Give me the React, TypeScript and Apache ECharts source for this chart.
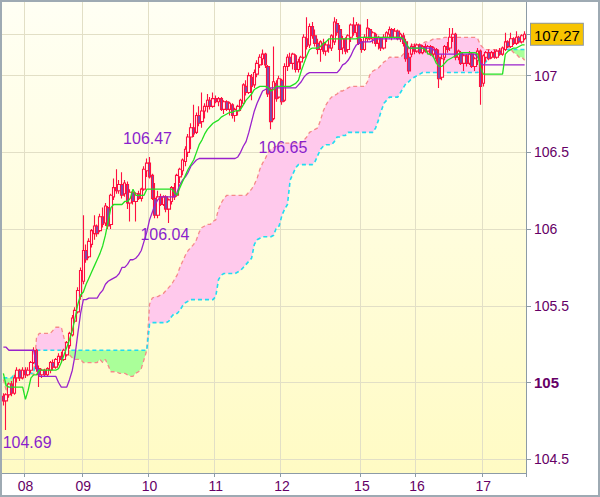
import React, { useEffect, useRef } from "react";
import * as echarts from "echarts";

// ---- x axis: day boundaries (hourly candles) ----
const dayLabels = ["08", "09", "10", "11", "12", "15", "16", "17"];
const dayStartIdx = [8, 29, 53, 77, 101, 130, 150, 174];

// ---- y axis ----
const yTickValues = [104.5, 105, 105.5, 106, 106.5, 107];
const lastPrice = 107.27;

// ---- candles: [open, close, low, high] ----
const candles: number[][] = [
  [104.91, 104.88, 104.85, 104.93], [104.88, 104.92, 104.69, 104.93], [104.92, 104.99, 104.90, 105.00], [104.99, 104.93, 104.91, 105.01], [104.93, 105.03, 104.92, 105.05],
  [105.03, 105.08, 105.00, 105.10], [105.08, 105.03, 105.01, 105.09], [105.03, 105.08, 105.02, 105.10], [105.08, 105.05, 105.03, 105.10], [105.05, 105.08, 105.04, 105.10],
  [105.08, 105.13, 105.06, 105.14], [105.13, 105.21, 105.12, 105.23], [105.21, 105.09, 105.07, 105.22], [105.09, 105.05, 104.97, 105.11], [105.05, 105.08, 105.03, 105.09],
  [105.08, 105.05, 105.04, 105.09], [105.05, 105.09, 105.04, 105.10], [105.08, 105.13, 105.06, 105.14], [105.13, 105.10, 105.08, 105.15], [105.10, 105.15, 105.09, 105.16],
  [105.13, 105.17, 105.11, 105.19], [105.17, 105.15, 105.13, 105.20], [105.15, 105.21, 105.14, 105.22], [105.18, 105.26, 105.17, 105.27], [105.24, 105.32, 105.22, 105.33],
  [105.31, 105.42, 105.30, 105.44], [105.40, 105.47, 105.39, 105.49], [105.46, 105.60, 105.45, 105.62], [105.56, 105.73, 105.54, 105.75], [105.66, 105.86, 105.64, 106.09],
  [105.86, 105.80, 105.78, 105.90], [105.82, 105.92, 105.81, 105.94], [105.90, 105.99, 105.88, 106.00], [105.97, 106.02, 105.93, 106.09], [106.02, 105.97, 105.95, 106.03],
  [105.99, 106.08, 105.98, 106.10], [106.08, 106.03, 106.01, 106.14], [106.04, 106.15, 106.02, 106.17], [106.14, 106.02, 106.00, 106.15], [106.03, 106.22, 106.00, 106.23],
  [106.21, 106.27, 106.19, 106.33], [106.27, 106.25, 106.23, 106.39], [106.25, 106.29, 106.23, 106.32], [106.29, 106.22, 106.20, 106.37], [106.23, 106.30, 106.21, 106.32],
  [106.29, 106.17, 106.13, 106.31], [106.17, 106.24, 106.05, 106.26], [106.24, 106.18, 106.16, 106.25], [106.18, 106.23, 106.05, 106.24], [106.23, 106.20, 106.19, 106.25],
  [106.20, 106.26, 106.18, 106.27], [106.26, 106.39, 106.25, 106.41], [106.38, 106.43, 106.34, 106.46], [106.43, 106.34, 106.33, 106.47], [106.35, 106.20, 106.19, 106.36],
  [106.20, 106.09, 106.07, 106.30], [106.09, 106.21, 106.07, 106.25], [106.21, 106.16, 106.15, 106.23], [106.16, 106.21, 106.15, 106.22], [106.21, 106.13, 106.11, 106.22],
  [106.13, 106.19, 106.04, 106.20], [106.18, 106.27, 106.16, 106.28], [106.27, 106.21, 106.19, 106.30], [106.22, 106.35, 106.21, 106.36], [106.34, 106.39, 106.30, 106.40],
  [106.38, 106.45, 106.35, 106.46], [106.44, 106.52, 106.41, 106.54], [106.50, 106.60, 106.47, 106.62], [106.60, 106.66, 106.52, 106.69], [106.66, 106.62, 106.60, 106.81],
  [106.63, 106.74, 106.62, 106.76], [106.74, 106.69, 106.67, 106.80], [106.70, 106.77, 106.66, 106.89], [106.77, 106.80, 106.72, 106.82], [106.80, 106.84, 106.76, 106.88],
  [106.84, 106.80, 106.78, 106.86], [106.80, 106.85, 106.79, 106.89], [106.85, 106.83, 106.82, 106.87], [106.83, 106.85, 106.80, 106.86], [106.85, 106.78, 106.77, 106.86],
  [106.78, 106.83, 106.75, 106.84], [106.83, 106.78, 106.77, 106.84], [106.78, 106.82, 106.74, 106.83], [106.81, 106.74, 106.72, 106.82], [106.74, 106.78, 106.70, 106.79],
  [106.77, 106.80, 106.74, 106.81], [106.80, 106.84, 106.77, 106.85], [106.82, 106.94, 106.81, 106.95], [106.93, 106.89, 106.87, 106.97], [106.89, 107.00, 106.88, 107.02],
  [106.99, 106.93, 106.84, 107.01], [106.94, 107.02, 106.92, 107.04], [107.01, 107.08, 106.99, 107.10], [107.07, 107.12, 107.05, 107.14], [107.11, 107.14, 107.07, 107.17],
  [107.14, 107.07, 107.05, 107.15], [107.06, 106.88, 106.86, 107.07], [106.91, 106.70, 106.65, 106.92], [106.72, 106.96, 106.71, 107.19], [106.95, 106.85, 106.83, 106.97],
  [106.86, 106.98, 106.85, 107.00], [106.97, 106.83, 106.81, 106.98], [106.84, 107.06, 106.83, 107.08], [107.06, 107.12, 107.03, 107.14], [107.12, 107.08, 107.06, 107.15],
  [107.08, 107.14, 107.04, 107.15], [107.13, 107.04, 107.02, 107.14], [107.04, 107.09, 107.02, 107.11], [107.09, 107.12, 107.04, 107.13], [107.12, 107.25, 107.11, 107.27],
  [107.24, 107.19, 107.17, 107.38], [107.20, 107.32, 107.18, 107.34], [107.32, 107.26, 107.24, 107.35], [107.26, 107.21, 107.19, 107.30], [107.21, 107.17, 107.14, 107.24],
  [107.17, 107.22, 107.09, 107.23], [107.21, 107.16, 107.14, 107.24], [107.16, 107.20, 107.13, 107.22], [107.20, 107.18, 107.15, 107.24], [107.18, 107.26, 107.16, 107.27],
  [107.22, 107.35, 107.20, 107.38], [107.34, 107.28, 107.26, 107.37], [107.30, 107.17, 107.09, 107.33], [107.18, 107.24, 107.14, 107.26], [107.24, 107.16, 107.14, 107.25],
  [107.17, 107.26, 107.15, 107.27], [107.25, 107.33, 107.22, 107.34], [107.33, 107.28, 107.26, 107.38], [107.28, 107.33, 107.25, 107.35], [107.33, 107.21, 107.20, 107.34],
  [107.22, 107.17, 107.15, 107.24], [107.17, 107.25, 107.16, 107.27], [107.24, 107.31, 107.22, 107.37], [107.30, 107.24, 107.23, 107.31], [107.24, 107.28, 107.21, 107.29],
  [107.27, 107.21, 107.19, 107.28], [107.21, 107.25, 107.17, 107.26], [107.24, 107.18, 107.16, 107.25], [107.18, 107.25, 107.17, 107.27], [107.25, 107.28, 107.22, 107.29],
  [107.27, 107.30, 107.24, 107.32], [107.30, 107.25, 107.23, 107.31], [107.25, 107.29, 107.24, 107.31], [107.29, 107.24, 107.23, 107.30], [107.24, 107.27, 107.22, 107.28],
  [107.26, 107.21, 107.19, 107.28], [107.22, 107.11, 107.09, 107.24], [107.12, 107.03, 107.01, 107.15], [107.14, 107.19, 107.12, 107.21], [107.19, 107.16, 107.14, 107.21],
  [107.16, 107.20, 107.15, 107.21], [107.20, 107.15, 107.14, 107.21], [107.15, 107.19, 107.14, 107.20], [107.19, 107.16, 107.15, 107.21], [107.16, 107.19, 107.14, 107.20],
  [107.19, 107.14, 107.13, 107.20], [107.14, 107.18, 107.12, 107.19], [107.17, 107.11, 107.09, 107.18], [107.12, 106.98, 106.92, 107.17], [106.99, 107.11, 106.97, 107.14],
  [107.12, 107.19, 107.10, 107.20], [107.19, 107.17, 107.15, 107.22], [107.18, 107.25, 107.16, 107.31], [107.25, 107.27, 107.22, 107.31], [107.27, 107.12, 107.10, 107.28],
  [107.12, 107.16, 107.10, 107.17], [107.15, 107.08, 107.07, 107.16], [107.08, 107.13, 107.03, 107.14], [107.13, 107.08, 107.06, 107.14], [107.08, 107.14, 107.07, 107.16],
  [107.14, 107.06, 107.05, 107.15], [107.06, 107.11, 107.03, 107.12], [107.10, 107.16, 107.07, 107.18], [107.16, 106.93, 106.81, 107.17], [106.95, 107.13, 106.93, 107.14],
  [107.12, 107.15, 107.09, 107.16], [107.15, 107.11, 107.10, 107.17], [107.12, 107.15, 107.11, 107.16], [107.15, 107.12, 107.11, 107.17], [107.12, 107.16, 107.11, 107.17],
  [107.16, 107.14, 107.13, 107.18], [107.14, 107.18, 107.13, 107.19], [107.17, 107.22, 107.16, 107.28], [107.22, 107.19, 107.18, 107.23], [107.19, 107.24, 107.18, 107.28],
  [107.24, 107.21, 107.20, 107.25], [107.21, 107.25, 107.20, 107.29], [107.25, 107.22, 107.21, 107.26], [107.22, 107.26, 107.21, 107.27], [107.24, 107.27, 107.23, 107.29],
];

// ---- conversion line (green) ----
const tenkan = [
  105.06, 104.98, 104.97, 104.97, 104.97, 104.97, 104.97, 104.97, 104.89, 104.95,
  105.03, 105.05, 105.05, 105.08, 105.08, 105.08, 105.08, 105.08, 105.08, 105.08,
  105.09, 105.13, 105.18, 105.23, 105.28, 105.34, 105.42, 105.51, 105.57, 105.59,
  105.64, 105.68, 105.72, 105.76, 105.80, 105.84, 105.89, 105.96, 106.05, 106.14,
  106.16, 106.16, 106.16, 106.16, 106.18, 106.18, 106.20, 106.26, 106.22, 106.22,
  106.22, 106.22, 106.26, 106.26, 106.26, 106.26, 106.26, 106.26, 106.26, 106.26,
  106.26, 106.26, 106.24, 106.22, 106.27, 106.31, 106.35, 106.39, 106.42, 106.45,
  106.50, 106.55, 106.58, 106.62, 106.65, 106.67, 106.69, 106.70, 106.71, 106.73,
  106.74, 106.75, 106.76, 106.76, 106.77, 106.77, 106.78, 106.81, 106.84, 106.86,
  106.88, 106.91, 106.92, 106.93, 106.93, 106.93, 106.92, 106.90, 106.91, 106.93,
  106.93, 106.93, 106.93, 106.93, 106.93, 106.94, 106.95, 106.97, 107.03, 107.08,
  107.13, 107.17, 107.18, 107.18, 107.18, 107.19, 107.21, 107.22, 107.24, 107.24,
  107.24, 107.24, 107.24, 107.24, 107.24, 107.24, 107.24, 107.24, 107.24, 107.25,
  107.25, 107.25, 107.25, 107.25, 107.25, 107.25, 107.25, 107.25, 107.25, 107.25,
  107.25, 107.25, 107.25, 107.25, 107.25, 107.24, 107.21, 107.18, 107.18, 107.18,
  107.18, 107.18, 107.18, 107.17, 107.14, 107.14, 107.12, 107.08, 107.06, 107.06,
  107.08, 107.10, 107.11, 107.12, 107.13, 107.14, 107.15, 107.15, 107.15, 107.15,
  107.15, 107.15, 107.14, 107.05, 107.01, 107.01, 107.01, 107.01, 107.01, 107.01,
  107.01, 107.01, 107.14, 107.16, 107.17, 107.18, 107.18, 107.19, 107.20, 107.20,
];

// ---- base line (purple) ----
const kijun = [
  105.23, 105.23, 105.21, 105.21, 105.21, 105.21, 105.21, 105.21, 105.21, 105.21,
  105.21, 105.21, 105.11, 105.04, 105.04, 105.04, 105.04, 105.04, 105.04, 105.04,
  105.00, 104.97, 104.97, 104.97, 105.02, 105.08, 105.18, 105.32, 105.45, 105.54,
  105.54, 105.55, 105.55, 105.55, 105.55, 105.58, 105.60, 105.64, 105.66, 105.67,
  105.68, 105.69, 105.71, 105.75, 105.75, 105.77, 105.80, 105.80, 105.81, 105.83,
  105.86, 105.92, 105.98, 106.06, 106.11, 106.16, 106.19, 106.21, 106.21, 106.21,
  106.21, 106.21, 106.21, 106.24, 106.29, 106.32, 106.34, 106.37, 106.41, 106.43,
  106.45, 106.46, 106.46, 106.46, 106.46, 106.46, 106.46, 106.46, 106.46, 106.46,
  106.46, 106.46, 106.46, 106.46, 106.46, 106.47, 106.50, 106.54, 106.57, 106.63,
  106.70, 106.77, 106.82, 106.86, 106.90, 106.91, 106.92, 106.92, 106.92, 106.92,
  106.92, 106.92, 106.92, 106.92, 106.92, 106.92, 106.92, 106.94, 106.96, 106.99,
  107.01, 107.02, 107.02, 107.02, 107.02, 107.02, 107.02, 107.02, 107.02, 107.02,
  107.02, 107.02, 107.04, 107.07, 107.08, 107.10, 107.13, 107.17, 107.20, 107.21,
  107.22, 107.22, 107.22, 107.22, 107.23, 107.24, 107.24, 107.24, 107.24, 107.24,
  107.24, 107.24, 107.24, 107.24, 107.24, 107.24, 107.21, 107.18, 107.18, 107.18,
  107.18, 107.18, 107.18, 107.18, 107.18, 107.18, 107.17, 107.14, 107.14, 107.14,
  107.14, 107.14, 107.14, 107.14, 107.14, 107.14, 107.14, 107.14, 107.14, 107.14,
  107.14, 107.14, 107.12, 107.08, 107.07, 107.07, 107.07, 107.07, 107.07, 107.07,
  107.07, 107.07, 107.07, 107.07, 107.07, 107.07, 107.07, 107.07, 107.07, 107.07,
];

// ---- leading span A (red dashed) ----
const spanA = [
  105.02, 104.95, 104.91, 104.94, 105.03, 105.05, 105.05, 105.05, 105.05, 105.05,
  105.05, 105.05, 105.29, 105.32, 105.32, 105.32, 105.32, 105.32, 105.34, 105.36,
  105.36, 105.36, 105.29, 105.23, 105.18, 105.16, 105.15, 105.15, 105.15, 105.13,
  105.13, 105.13, 105.13, 105.13, 105.13, 105.15, 105.13, 105.15, 105.11, 105.07,
  105.07, 105.07, 105.06, 105.06, 105.06, 105.05, 105.04, 105.04, 105.06, 105.07,
  105.09, 105.15, 105.21, 105.51, 105.55, 105.56, 105.56, 105.57, 105.58, 105.60,
  105.62, 105.64, 105.67, 105.70, 105.75, 105.79, 105.83, 105.86, 105.88, 105.90,
  105.93, 105.98, 106.01, 106.02, 106.03, 106.03, 106.05, 106.06, 106.13, 106.17,
  106.20, 106.22, 106.22, 106.22, 106.22, 106.22, 106.22, 106.22, 106.22, 106.24,
  106.26, 106.29, 106.33, 106.39, 106.43, 106.46, 106.50, 106.52, 106.53, 106.54,
  106.56, 106.56, 106.56, 106.56, 106.56, 106.56, 106.56, 106.56, 106.56, 106.58,
  106.60, 106.63, 106.64, 106.65, 106.66, 106.71, 106.77, 106.81, 106.84, 106.86,
  106.87, 106.88, 106.90, 106.90, 106.91, 106.92, 106.93, 106.93, 106.93, 106.93,
  106.93, 106.93, 106.96, 107.01, 107.03, 107.04, 107.05, 107.07, 107.09, 107.10,
  107.12, 107.12, 107.12, 107.12, 107.12, 107.14, 107.16, 107.18, 107.20, 107.20,
  107.20, 107.20, 107.21, 107.22, 107.22, 107.23, 107.24, 107.24, 107.24, 107.24,
  107.25, 107.25, 107.25, 107.25, 107.25, 107.25, 107.25, 107.25, 107.25, 107.25,
  107.25, 107.25, 107.24, 107.20, 107.18, 107.17, 107.17, 107.17, 107.17, 107.17,
  107.17, 107.18, 107.19, 107.19, 107.17, 107.15, 107.14, 107.12, 107.12, 107.10,
];

// ---- leading span B (cyan dashed) ----
const spanB = [
  105.03, 105.03, 105.03, 105.03, 105.06, 105.06, 105.06, 105.06, 105.06, 105.06,
  105.06, 105.06, 105.21, 105.21, 105.21, 105.21, 105.21, 105.21, 105.21, 105.21,
  105.21, 105.21, 105.21, 105.21, 105.21, 105.21, 105.21, 105.21, 105.21, 105.21,
  105.21, 105.21, 105.21, 105.21, 105.21, 105.21, 105.21, 105.21, 105.21, 105.21,
  105.21, 105.21, 105.21, 105.21, 105.21, 105.21, 105.21, 105.21, 105.21, 105.21,
  105.21, 105.21, 105.21, 105.38, 105.39, 105.39, 105.39, 105.39, 105.39, 105.39,
  105.40, 105.43, 105.45, 105.45, 105.47, 105.50, 105.52, 105.53, 105.54, 105.54,
  105.54, 105.54, 105.54, 105.54, 105.54, 105.54, 105.54, 105.56, 105.67, 105.70,
  105.71, 105.71, 105.71, 105.71, 105.71, 105.72, 105.73, 105.75, 105.77, 105.79,
  105.81, 105.90, 105.93, 105.94, 105.95, 105.95, 105.95, 105.95, 105.96, 106.01,
  106.02, 106.09, 106.13, 106.16, 106.32, 106.36, 106.40, 106.42, 106.42, 106.42,
  106.42, 106.42, 106.42, 106.44, 106.48, 106.52, 106.54, 106.55, 106.55, 106.55,
  106.57, 106.60, 106.60, 106.61, 106.61, 106.63, 106.63, 106.63, 106.63, 106.63,
  106.63, 106.63, 106.63, 106.63, 106.63, 106.66, 106.71, 106.77, 106.82, 106.84,
  106.86, 106.86, 106.86, 106.86, 106.89, 106.92, 106.95, 106.96, 106.98, 106.99,
  107.00, 107.01, 107.02, 107.02, 107.02, 107.02, 107.02, 107.02, 107.02, 107.02,
  107.02, 107.02, 107.02, 107.02, 107.02, 107.02, 107.02, 107.02, 107.02, 107.02,
  107.02, 107.02, 107.02, 107.05, 107.07, 107.09, 107.12, 107.13, 107.14, 107.14,
  107.16, 107.16, 107.17, 107.17, 107.17, 107.17, 107.17, 107.17, 107.17, 107.17,
];

// ---- high / low annotations: [candle index, price] ----
const markIdx = [53, 60, 97, 1];
const markVal = [106.47, 106.04, 106.65, 104.69];

const FONT = "Arial, 'Liberation Sans', sans-serif";
const AXIS_TEXT = "#660066";

export default function App() {
  const ref = useRef<HTMLDivElement>(null);

  useEffect(() => {
    if (!ref.current) return;
    const chart = echarts.init(ref.current, undefined, { renderer: "svg" });

    const cats = candles.map((_, i) => "h" + i);
    const dayMap: Record<number, string> = {};
    dayStartIdx.forEach((idx, k) => (dayMap[idx] = dayLabels[k]));
    const isDay = (i: number) => dayMap[i] !== undefined;

    const base = spanA.map((a, i) => Math.min(a, spanB[i]));
    const pinkDiff = spanA.map((a, i) => Math.max(a - spanB[i], 0));
    const greenDiff = spanA.map((a, i) => Math.max(spanB[i] - a, 0));

    const markOffsets = [
      [-2, -18],
      [-4, 12],
      [12, 18],
      [21, 12],
    ];

    const option: any = {
      animation: false,
      backgroundColor: "#ffffff",
      textStyle: { fontFamily: FONT },
      grid: {
        left: 0,
        right: 72,
        top: 0,
        bottom: 22,
        show: true,
        borderWidth: 0,
        backgroundColor: new echarts.graphic.LinearGradient(0, 0, 0, 1, [
          { offset: 0, color: "#fffff4" },
          { offset: 1, color: "#fffbc4" },
        ]),
      },
      xAxis: {
        type: "category",
        data: cats,
        boundaryGap: true,
        axisLine: { show: true, lineStyle: { color: "#8c9ba6", width: 1 } },
        axisTick: {
          show: true,
          interval: (i: number) => isDay(i),
          length: 4,
          lineStyle: { color: "#8c9ba6" },
        },
        axisLabel: {
          interval: (i: number) => isDay(i),
          formatter: (_v: string, i: number) => dayMap[i] ?? "",
          color: AXIS_TEXT,
          fontSize: 14,
          fontFamily: FONT,
          margin: 6,
        },
        splitLine: {
          show: true,
          interval: (i: number) => isDay(i),
          lineStyle: { color: "#e2dfc6", width: 1 },
        },
      },
      yAxis: {
        type: "value",
        position: "right",
        min: 104.41,
        max: 107.48,
        axisLine: { show: true, lineStyle: { color: "#8c9ba6", width: 1 } },
        axisTick: {
          show: true,
          length: 5,
          customValues: [...yTickValues, lastPrice],
          lineStyle: { color: "#8c9ba6" },
        },
        axisLabel: {
          customValues: [...yTickValues, lastPrice],
          margin: 5,
          color: AXIS_TEXT,
          fontSize: 14,
          fontFamily: FONT,
          formatter: (v: number) => {
            if (Math.abs(v - lastPrice) < 1e-6) return "{p|" + lastPrice.toFixed(2) + "}";
            if (Math.abs(v * 2 - Math.round(v * 2)) > 1e-6) return "";
            if (Math.abs(v - 105) < 1e-6) return "{b|105}";
            return "{n|" + String(v) + "}";
          },
          rich: {
            n: { color: AXIS_TEXT, fontSize: 14, fontFamily: FONT, padding: [0, 0, 0, 3] },
            b: { color: AXIS_TEXT, fontSize: 15, fontWeight: "bold", fontFamily: FONT, padding: [0, 0, 0, 3] },
            p: {
              color: "#000000",
              fontSize: 15,
              fontFamily: FONT,
              backgroundColor: "#f7c400",
              borderColor: "#8c98a2",
              borderWidth: 1,
              padding: [4, 3, 2, 3],
            },
          },
        },
        splitLine: { show: true, lineStyle: { color: "#e2dfc6", width: 1 } },
      },
      series: [
        {
          name: "base",
          type: "line",
          stack: "kumo",
          data: base,
          symbol: "none",
          silent: true,
          lineStyle: { width: 0, opacity: 0 },
          z: 1,
        },
        {
          name: "kumoUp",
          type: "line",
          stack: "kumo",
          data: pinkDiff,
          symbol: "none",
          silent: true,
          lineStyle: { width: 0, opacity: 0 },
          areaStyle: { color: "#ffc9ec", opacity: 1 },
          z: 1,
        },
        {
          name: "kumoDown",
          type: "line",
          stack: "kumo",
          data: greenDiff,
          symbol: "none",
          silent: true,
          lineStyle: { width: 0, opacity: 0 },
          areaStyle: { color: "#aaff99", opacity: 1 },
          z: 1,
        },
        {
          name: "spanA",
          type: "line",
          data: spanA,
          symbol: "none",
          silent: true,
          lineStyle: { color: "#f58a8a", width: 1.3, type: [4, 3] },
          z: 2,
        },
        {
          name: "spanB",
          type: "line",
          data: spanB,
          symbol: "none",
          silent: true,
          lineStyle: { color: "#22dcf0", width: 1.6, type: [4, 3] },
          z: 2,
        },
        {
          name: "price",
          type: "candlestick",
          data: candles,
          barWidth: 3,
          z: 3,
          itemStyle: {
            color: "#fffff4",
            color0: "#7a50b0",
            borderColor: "#ff1040",
            borderColor0: "#ff1040",
            borderWidth: 1.1,
          },
          markPoint: {
            symbol: "circle",
            symbolSize: 1,
            silent: true,
            itemStyle: { color: "rgba(0,0,0,0)" },
            label: {
              show: true,
              position: "inside",
              color: "#8a1fcc",
              fontSize: 16,
              fontFamily: FONT,
            },
            data: markIdx.map((idx, k) => ({
              coord: [idx, markVal[k]],
              value: markVal[k],
              label: {
                offset: markOffsets[k],
                formatter: markVal[k].toFixed(2),
              },
            })),
          },
        },
        {
          name: "kijun",
          type: "line",
          data: kijun,
          symbol: "none",
          silent: true,
          lineStyle: { color: "#9a22cc", width: 1.3 },
          z: 4,
        },
        {
          name: "tenkan",
          type: "line",
          data: tenkan,
          symbol: "none",
          silent: true,
          lineStyle: { color: "#22e022", width: 1.3 },
          z: 5,
        },
      ],
    };

    chart.setOption(option);
    return () => chart.dispose();
  }, []);

  return (
    <div
      style={{
        position: "absolute",
        left: 0,
        top: 0,
        width: 600,
        height: 497,
        boxSizing: "border-box",
        border: "2px solid #9eaab3",
        background: "#ffffff",
      }}
    >
      <div ref={ref} style={{ width: 596, height: 493 }} />
    </div>
  );
}
